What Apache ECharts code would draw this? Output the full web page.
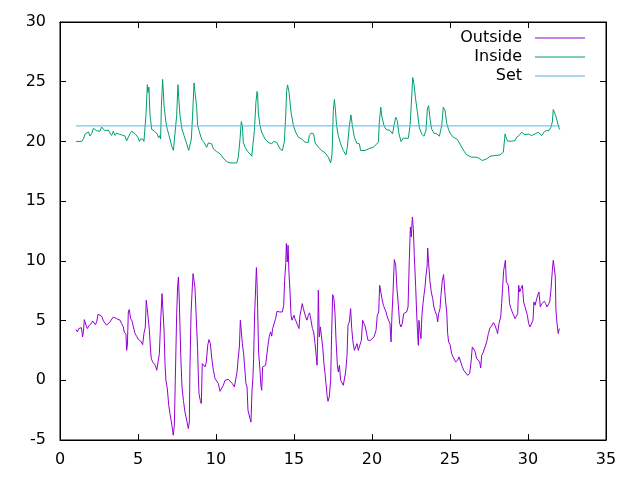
<!DOCTYPE html>
<html>
<head>
<meta charset="utf-8">
<script src="https://cdn.jsdelivr.net/npm/echarts@6/dist/echarts.min.js"></script>
<style>
  html, body { margin: 0; padding: 0; background: #fff; }
  #chart { width: 640px; height: 480px; }
</style>
</head>
<body>
<div id="chart"></div>
<script>
// day of month vs temperature
const outside = [
  [1.03, 4.24], [1.11, 4.05], [1.2, 4.33], [1.28, 4.19], [1.37, 4.41], [1.45, 3.63], [1.5, 4.05],
  [1.56, 5.08], [1.62, 5.16], [1.67, 4.61], [1.75, 4.33], [1.88, 4.61], [2.01, 4.75], [2.09, 4.97],
  [2.18, 4.89], [2.27, 4.66], [2.35, 4.89], [2.44, 5.53], [2.56, 5.58], [2.67, 5.36], [2.78, 4.97],
  [2.88, 5.03], [2.99, 4.61], [3.1, 4.66], [3.2, 4.89], [3.31, 4.8], [3.42, 5.3], [3.53, 5.36],
  [3.63, 5.16], [3.74, 5.25], [3.85, 5.03], [3.95, 4.75], [4.06, 4.47], [4.12, 4.05], [4.23, 3.85],
  [4.27, 2.51], [4.32, 2.93], [4.38, 5.72], [4.44, 5.92], [4.53, 5.16], [4.62, 4.97], [4.7, 4.47],
  [4.81, 3.91], [4.91, 3.69], [5.02, 3.41], [5.17, 3.29], [5.3, 2.99], [5.38, 3.91], [5.47, 4.47],
  [5.53, 6.7], [5.6, 6.84], [5.66, 5.16], [5.73, 4.19], [5.79, 2.79], [5.85, 1.81], [5.94, 1.54],
  [6.03, 1.68], [6.11, 1.26], [6.2, 0.84], [6.3, 0.84], [6.37, 2.23], [6.45, 4.89], [6.54, 7.26],
  [6.6, 7.12], [6.67, 4.19], [6.73, 1.4], [6.79, 0.0], [6.88, -0.7], [6.97, -2.09], [7.05, -2.79],
  [7.14, -3.49], [7.22, -4.19], [7.26, -4.6], [7.33, -3.77], [7.39, 0.0], [7.48, 5.58], [7.54, 7.82],
  [7.59, 8.65], [7.65, 6.56], [7.74, 2.09], [7.82, -0.56], [7.91, -1.68], [8.01, -2.65], [8.12, -3.35],
  [8.23, -4.05], [8.29, -3.49], [8.33, 0.98], [8.4, 5.58], [8.46, 7.26], [8.53, 8.93], [8.59, 9.07],
  [8.65, 7.8], [8.76, 4.47], [8.82, 2.65], [8.87, 0.28], [8.91, -1.12], [8.99, -1.68], [9.06, -1.95],
  [9.12, 1.4], [9.21, 1.26], [9.3, 1.12], [9.38, 1.54], [9.47, 2.93], [9.55, 3.41], [9.64, 3.07],
  [9.72, 1.95], [9.83, 0.84], [9.94, 0.14], [10.06, 0.0], [10.15, -0.28], [10.26, -0.92], [10.36, -0.98],
  [10.47, -0.42], [10.58, 0.0], [10.68, 0.08], [10.79, 0.08], [10.9, -0.06], [11.05, -0.28],
  [11.18, -0.56], [11.28, -0.56], [11.35, 0.7], [11.43, 1.95], [11.5, 2.79], [11.56, 5.03],
  [11.62, 4.97], [11.69, 3.07], [11.77, 2.23], [11.86, 0.7], [11.92, -0.28], [11.99, -0.56],
  [12.05, -2.51], [12.12, -2.65], [12.18, -3.21], [12.24, -3.5], [12.31, -0.84], [12.37, 0.28],
  [12.41, 1.81], [12.48, 5.72], [12.52, 6.98], [12.59, 9.44], [12.63, 8.24], [12.67, 6.0],
  [12.73, 2.37], [12.82, 0.84], [12.88, -0.42], [12.93, -0.84], [12.99, 1.12], [13.08, 1.17],
  [13.18, 1.26], [13.27, 1.12], [13.33, 2.93], [13.42, 3.69], [13.5, 4.05], [13.57, 3.69],
  [13.63, 4.33], [13.74, 4.38], [13.82, 5.16], [13.91, 5.78], [14.0, 5.64], [14.08, 5.72],
  [14.17, 5.72], [14.25, 5.72], [14.34, 6.28], [14.4, 8.37], [14.47, 9.77], [14.51, 11.45],
  [14.57, 9.91], [14.62, 11.31], [14.68, 8.93], [14.74, 7.54], [14.81, 5.44], [14.87, 5.03],
  [14.94, 5.16], [15.0, 5.44], [15.06, 5.16], [15.15, 4.89], [15.23, 4.61], [15.32, 4.33],
  [15.38, 5.44], [15.45, 5.86], [15.53, 6.42], [15.6, 6.0], [15.66, 5.72], [15.75, 5.3],
  [15.83, 5.03], [15.92, 5.44], [16.0, 5.64], [16.09, 5.03], [16.18, 4.33], [16.26, 4.05],
  [16.35, 3.07], [16.41, 2.23], [16.48, 1.26], [16.52, 3.63], [16.56, 7.54], [16.62, 3.63],
  [16.69, 4.47], [16.77, 3.55], [16.84, 2.79], [16.92, 1.4], [16.99, 0.56], [17.05, -0.28],
  [17.12, -1.26], [17.18, -1.76], [17.26, -1.4], [17.35, 0.0], [17.41, 3.77], [17.48, 7.17],
  [17.56, 6.84], [17.63, 5.58], [17.69, 3.49], [17.78, 1.26], [17.84, 0.7], [17.91, 1.26],
  [17.99, 0.0], [18.08, -0.14], [18.16, -0.42], [18.25, -0.28], [18.31, 0.7], [18.4, 2.09],
  [18.46, 4.61], [18.55, 4.89], [18.63, 6.0], [18.7, 4.33], [18.78, 3.21], [18.87, 2.51],
  [18.95, 2.65], [19.04, 3.07], [19.12, 2.51], [19.23, 2.37], [19.32, 3.35], [19.4, 5.02],
  [19.49, 4.75], [19.57, 4.47], [19.66, 4.61], [19.74, 3.35], [19.83, 3.21], [19.91, 3.35],
  [20.02, 3.21], [20.13, 3.63], [20.26, 4.19], [20.34, 5.44], [20.43, 5.72], [20.49, 7.96],
  [20.58, 8.01], [20.64, 6.84], [20.73, 6.28], [20.81, 6.14], [20.9, 5.72], [20.98, 5.3],
  [21.07, 5.16], [21.15, 4.75], [21.22, 3.21], [21.28, 5.44], [21.35, 7.4], [21.43, 10.11],
  [21.52, 9.63], [21.6, 7.68], [21.69, 6.28], [21.77, 4.75], [21.86, 4.47], [21.94, 4.75],
  [22.03, 5.58], [22.14, 5.44], [22.22, 5.72], [22.31, 6.14], [22.39, 10.05], [22.46, 12.84],
  [22.52, 12.0], [22.59, 13.68], [22.65, 12.7], [22.71, 10.47], [22.8, 7.82], [22.86, 5.72],
  [22.93, 3.77], [22.97, 2.93], [23.01, 5.02], [23.08, 4.05], [23.14, 3.49], [23.2, 5.44],
  [23.27, 6.42], [23.33, 7.12], [23.4, 7.82], [23.46, 8.8], [23.53, 9.49], [23.57, 11.08],
  [23.63, 9.77], [23.72, 8.24], [23.8, 7.4], [23.89, 6.84], [23.97, 6.14], [24.06, 5.72],
  [24.15, 5.44], [24.21, 4.89], [24.27, 5.58], [24.36, 6.0], [24.42, 7.12], [24.51, 8.38],
  [24.59, 8.85], [24.66, 7.54], [24.72, 6.56], [24.79, 5.72], [24.85, 3.91], [24.91, 3.21],
  [25.0, 2.99], [25.11, 2.23], [25.19, 1.96], [25.28, 1.82], [25.36, 1.54], [25.49, 1.68],
  [25.58, 1.96], [25.7, 1.82], [25.79, 1.12], [25.88, 0.84], [26.0, 0.7], [26.13, 0.42],
  [26.26, 0.56], [26.35, 1.54], [26.43, 2.79], [26.52, 2.93], [26.6, 2.43], [26.71, 1.82],
  [26.82, 1.96], [26.9, 1.54], [26.97, 1.03], [27.03, 2.09], [27.14, 2.37], [27.24, 2.51],
  [27.35, 3.21], [27.46, 3.91], [27.56, 4.38], [27.67, 4.55], [27.78, 4.83], [27.88, 4.61],
  [27.99, 4.19], [28.05, 3.91], [28.14, 4.75], [28.25, 5.3], [28.31, 6.42], [28.37, 7.68],
  [28.44, 9.21], [28.5, 9.63], [28.55, 10.05], [28.61, 8.24], [28.67, 8.38], [28.74, 7.96],
  [28.82, 6.42], [28.91, 6.0], [28.99, 5.72], [29.08, 5.58], [29.17, 5.16], [29.27, 5.02],
  [29.34, 5.58], [29.4, 7.96], [29.47, 7.4], [29.55, 7.68], [29.64, 7.96], [29.72, 6.56],
  [29.81, 6.14], [29.89, 6.0], [29.96, 5.44], [30.04, 4.75], [30.13, 4.47], [30.23, 4.61],
  [30.32, 5.02], [30.38, 6.56], [30.45, 6.28], [30.53, 6.14], [30.62, 7.12], [30.7, 7.4],
  [30.79, 6.14], [30.88, 6.42], [30.96, 6.56], [31.05, 6.61], [31.13, 6.42], [31.22, 6.14],
  [31.3, 6.28], [31.39, 6.56], [31.47, 7.54], [31.56, 9.21], [31.62, 10.05], [31.69, 9.35],
  [31.75, 8.66], [31.79, 5.86], [31.86, 4.75], [31.94, 3.91], [32.01, 4.33]
];

const inside = [
  [1.03, 20.0], [1.39, 20.0], [1.5, 20.2], [1.6, 20.6], [1.71, 20.5], [1.82, 20.8], [1.92, 20.45],
  [2.03, 20.65], [2.14, 21.1], [2.24, 21.2], [2.35, 20.9], [2.46, 21.0], [2.56, 20.85], [2.67, 21.2],
  [2.78, 21.05], [2.88, 20.9], [2.99, 20.8], [3.1, 20.95], [3.2, 20.7], [3.31, 20.5], [3.42, 20.85],
  [3.53, 20.5], [3.63, 20.7], [3.8, 20.6], [3.95, 20.55], [4.06, 20.5], [4.17, 20.45], [4.27, 20.05],
  [4.38, 20.2], [4.49, 20.65], [4.59, 20.85], [4.7, 20.85], [4.81, 20.65], [4.91, 20.5], [5.02, 20.3],
  [5.09, 20.0], [5.17, 20.2], [5.3, 20.2], [5.38, 20.0], [5.47, 20.1], [5.51, 22.2], [5.6, 24.75],
  [5.64, 24.1], [5.7, 24.55], [5.77, 22.2], [5.88, 21.0], [6.03, 20.9], [6.15, 20.8], [6.24, 20.6],
  [6.32, 20.3], [6.41, 20.5], [6.45, 20.2], [6.5, 23.0], [6.58, 25.2], [6.67, 23.0], [6.79, 21.6],
  [6.88, 21.0], [6.97, 20.6], [7.05, 20.2], [7.16, 19.6], [7.27, 19.25], [7.39, 19.25], [7.48, 22.2],
  [7.56, 24.75], [7.61, 23.7], [7.69, 22.2], [7.82, 21.0], [7.95, 20.5], [8.12, 19.8], [8.25, 19.25],
  [8.33, 19.1], [8.42, 20.2], [8.5, 22.2], [8.59, 24.9], [8.68, 23.8], [8.76, 22.9], [8.82, 21.33],
  [8.91, 20.91], [9.04, 20.35], [9.12, 20.07], [9.25, 19.88], [9.4, 19.5], [9.51, 19.88], [9.62, 19.9],
  [9.72, 19.8], [9.83, 19.38], [10.04, 19.15], [10.26, 18.96], [10.47, 18.6], [10.68, 18.31],
  [10.9, 18.2], [11.33, 18.2], [11.43, 18.68], [11.54, 20.21], [11.62, 21.66], [11.69, 21.33],
  [11.75, 19.93], [11.86, 19.52], [12.03, 19.15], [12.18, 18.96], [12.29, 18.76], [12.39, 18.6],
  [12.46, 20.91], [12.56, 23.28], [12.63, 24.18], [12.67, 23.98], [12.71, 22.45], [12.82, 21.33],
  [12.93, 20.77], [13.14, 20.21], [13.35, 19.93], [13.57, 19.8], [13.68, 19.99], [13.89, 19.93],
  [14.1, 19.38], [14.25, 19.24], [14.38, 19.93], [14.47, 22.17], [14.53, 24.26], [14.59, 24.74],
  [14.68, 24.12], [14.81, 22.45], [14.96, 21.33], [15.11, 20.77], [15.28, 20.35], [15.49, 20.21],
  [15.71, 19.93], [15.92, 19.93], [15.98, 20.49], [16.09, 20.69], [16.18, 20.83], [16.26, 20.63],
  [16.35, 19.88], [16.56, 19.52], [16.77, 19.24], [16.99, 19.05], [17.2, 18.68], [17.35, 18.2],
  [17.44, 18.96], [17.52, 22.59], [17.59, 23.51], [17.65, 22.73], [17.73, 21.33], [17.84, 20.49],
  [17.99, 19.8], [18.16, 19.24], [18.33, 18.87], [18.42, 19.52], [18.55, 21.33], [18.65, 22.22],
  [18.74, 21.33], [18.87, 20.35], [19.02, 19.85], [19.19, 19.8], [19.27, 19.24], [19.55, 19.24],
  [19.87, 19.43], [20.09, 19.52], [20.41, 19.93], [20.47, 21.61], [20.56, 22.87], [20.64, 22.03],
  [20.77, 21.33], [20.9, 21.0], [21.15, 20.91], [21.32, 20.63], [21.41, 21.33], [21.52, 22.03],
  [21.62, 21.75], [21.73, 20.63], [21.86, 19.99], [22.01, 20.27], [22.33, 20.27], [22.44, 21.33],
  [22.52, 23.14], [22.61, 25.35], [22.69, 24.82], [22.78, 23.7], [22.91, 22.45], [23.03, 21.19],
  [23.18, 20.63], [23.33, 20.44], [23.46, 20.91], [23.55, 22.73], [23.63, 23.0], [23.72, 21.89],
  [23.82, 21.05], [23.97, 20.69], [24.15, 20.63], [24.32, 20.44], [24.47, 21.33], [24.57, 22.87],
  [24.68, 22.6], [24.79, 21.5], [24.91, 21.0], [25.0, 20.7], [25.21, 20.35], [25.43, 20.21],
  [25.58, 19.93], [25.75, 19.52], [25.92, 19.15], [26.07, 18.87], [26.39, 18.68], [26.71, 18.68],
  [26.92, 18.54], [27.07, 18.4], [27.35, 18.54], [27.56, 18.76], [27.88, 18.82], [28.2, 18.87],
  [28.42, 19.1], [28.53, 20.63], [28.63, 20.21], [28.7, 20.02], [28.95, 20.02], [29.17, 20.07],
  [29.27, 20.35], [29.42, 20.49], [29.59, 20.77], [29.81, 20.55], [30.02, 20.63], [30.23, 20.49],
  [30.45, 20.63], [30.66, 20.77], [30.88, 20.49], [31.05, 20.83], [31.2, 20.91], [31.35, 20.91],
  [31.47, 21.19], [31.56, 21.61], [31.62, 22.67], [31.69, 22.45], [31.77, 22.17], [31.86, 21.75],
  [31.94, 21.33], [32.03, 21.0]
];

const setpoint = [[1.03, 21.3], [32.05, 21.3]];

const seriesNames = ["Outside", "Inside", "Set"];
const seriesColors = ["#9400d3", "#009e73", "#56b4e9"];

const chart = echarts.init(document.getElementById("chart"));
const font = "DejaVu Sans";

const lineSeries = (name, data, color) => ({
  name: name,
  type: "line",
  data: data,
  showSymbol: false,
  symbol: "none",
  animation: false,
  lineStyle: { color: color, width: 1 },
  itemStyle: { color: color },
  xAxisIndex: 0,
  yAxisIndex: 0
});

// gnuplot style: ticks inward on all four sides, labels only bottom/left
const axisBase = {
  axisLine: { show: true, onZero: false, lineStyle: { color: "#000" } },
  axisTick: { inside: true, length: 6, lineStyle: { color: "#000" } },
  splitLine: { show: false }
};

chart.setOption({
  animation: false,
  backgroundColor: "#fff",
  grid: {
    left: 60, right: 34, top: 22, bottom: 40,
    show: true, borderColor: "#000", borderWidth: 1, backgroundColor: "transparent"
  },
  legend: {
    data: seriesNames,
    orient: "vertical",
    right: 50,
    top: 25,
    align: "right",
    icon: "rect",
    itemWidth: 50,
    itemHeight: 1,
    itemGap: 3,
    textStyle: { fontFamily: font, fontSize: 16, color: "#000", padding: [0, 8, 0, 0] }
  },
  xAxis: [
    Object.assign({
      type: "value", min: 0, max: 35, interval: 5,
      axisLabel: { fontFamily: font, fontSize: 16, color: "#000", margin: 12 }
    }, axisBase),
    Object.assign({
      type: "value", position: "top", min: 0, max: 35, interval: 5,
      axisLabel: { show: false }
    }, axisBase)
  ],
  yAxis: [
    Object.assign({
      type: "value", min: -5, max: 30, interval: 5,
      axisLabel: { fontFamily: font, fontSize: 16, color: "#000", margin: 14 }
    }, axisBase),
    Object.assign({
      type: "value", position: "right", min: -5, max: 30, interval: 5,
      axisLabel: { show: false }
    }, axisBase)
  ],
  series: [
    lineSeries(seriesNames[0], outside, seriesColors[0]),
    lineSeries(seriesNames[1], inside, seriesColors[1]),
    lineSeries(seriesNames[2], setpoint, seriesColors[2])
  ]
});
</script>
</body>
</html>
